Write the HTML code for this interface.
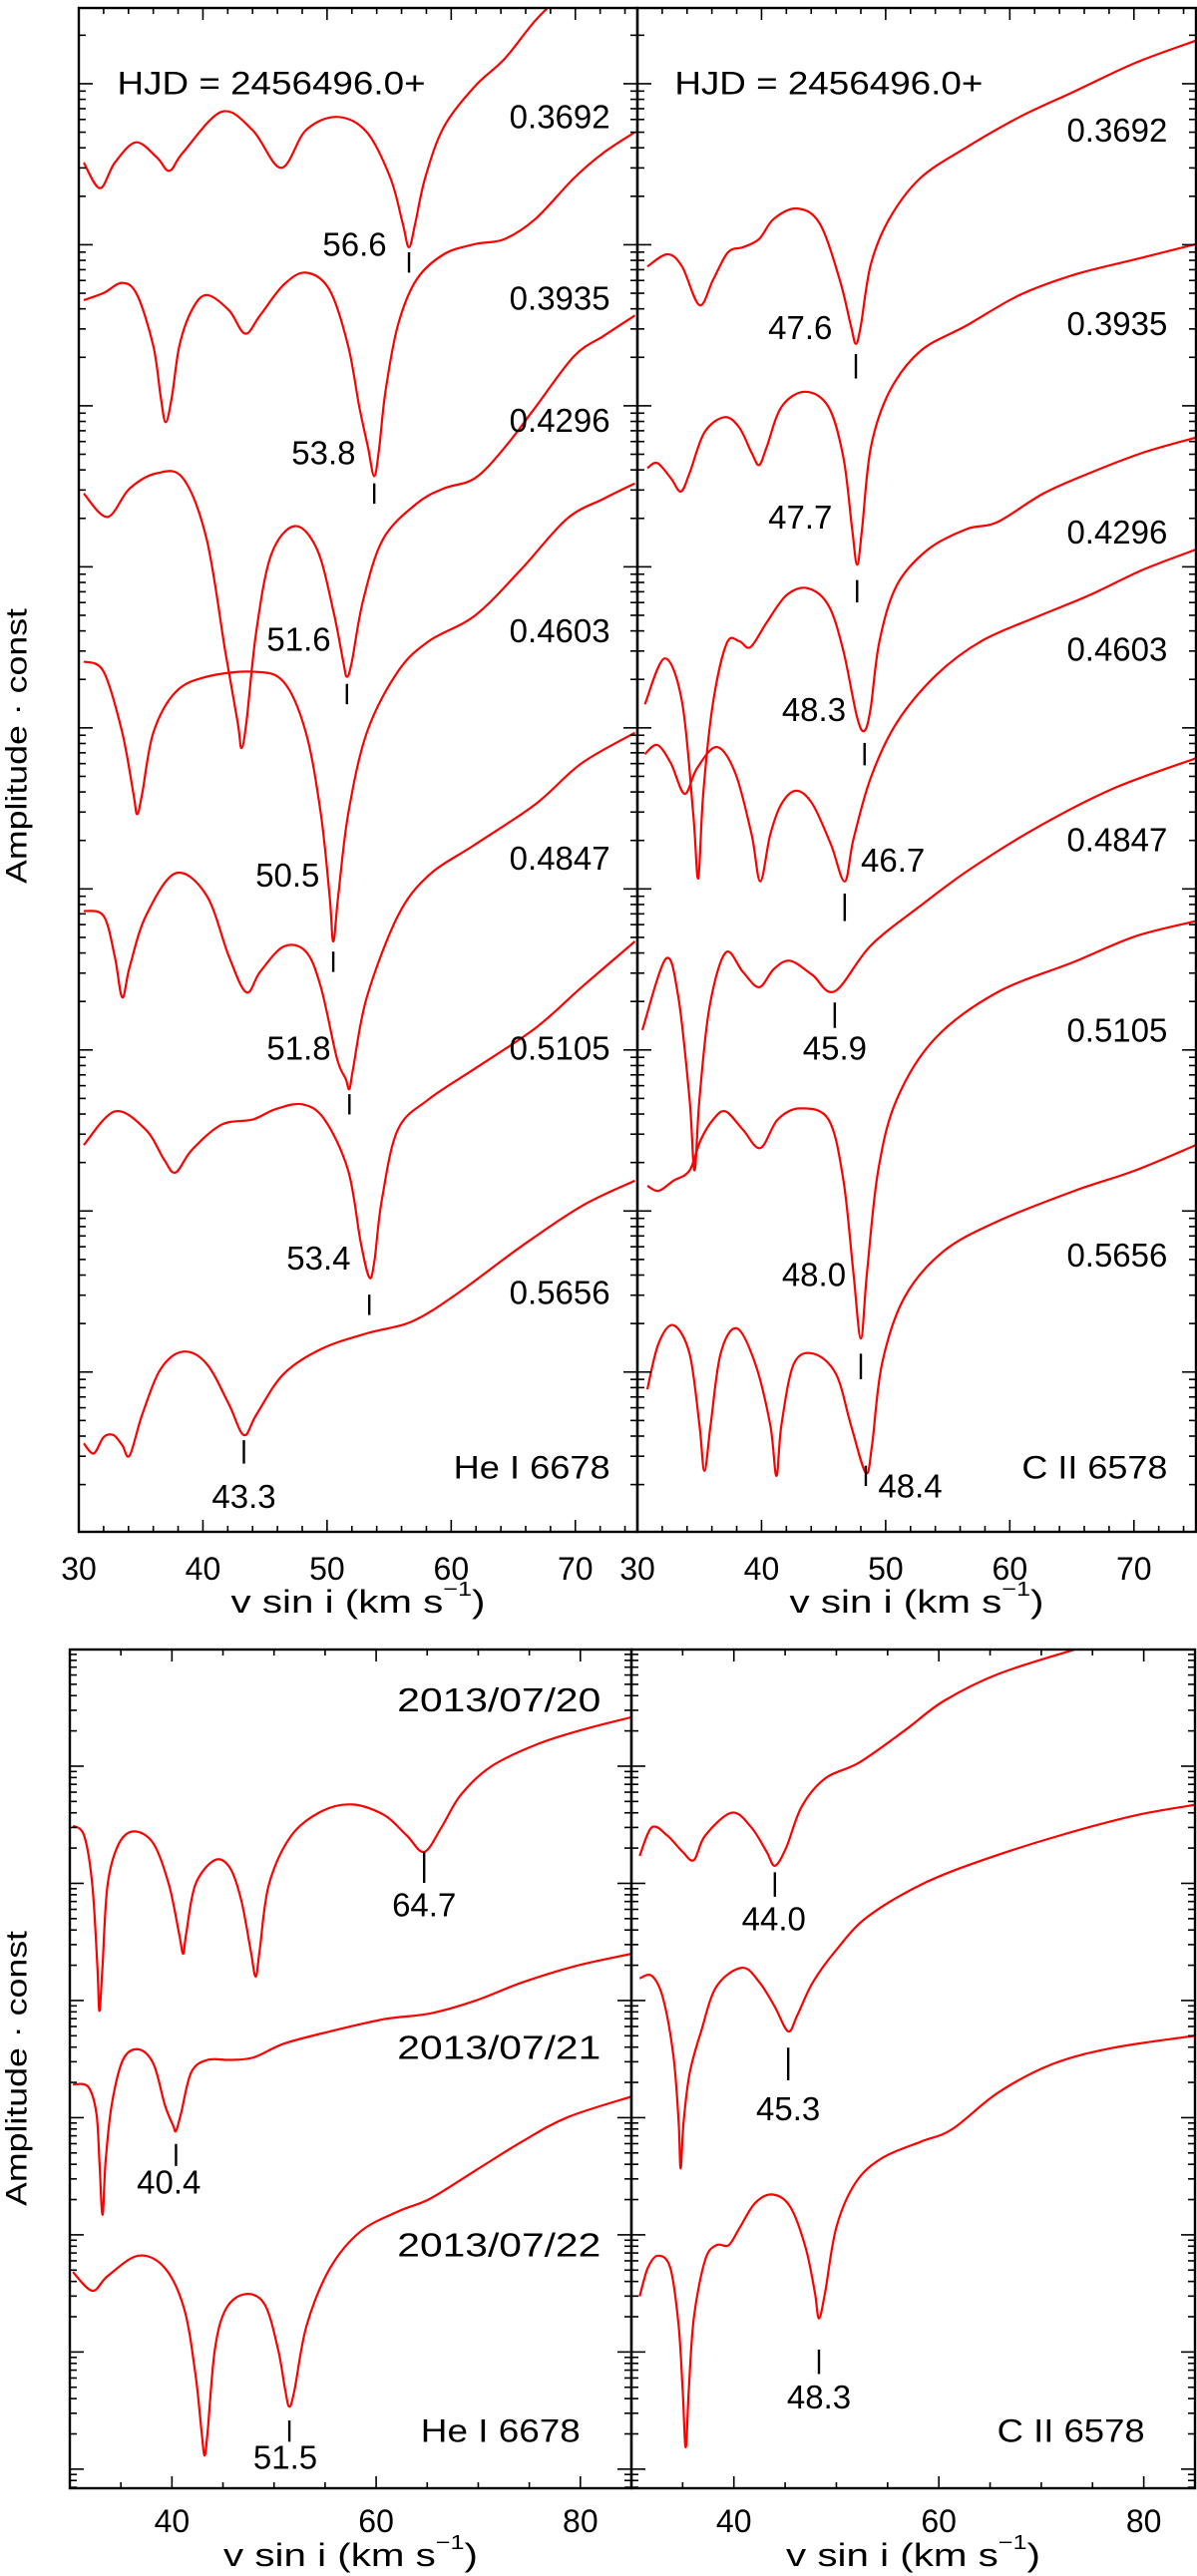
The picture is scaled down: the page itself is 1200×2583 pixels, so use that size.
<!DOCTYPE html>
<html><head><meta charset="utf-8"><title>v sin i amplitude spectra</title>
<style>
html,body{margin:0;padding:0;background:#fff;}
svg{display:block;}
text{font-family:"Liberation Sans",sans-serif;fill:#000;}
</style></head>
<body>
<svg id="fig" xmlns="http://www.w3.org/2000/svg" width="1200" height="2583" viewBox="0 0 1200 2583"></svg>
<script>
// ---------------- DATA (v sin i in km/s, amplitude in arbitrary offset units) ----------------
// Top-left: He I 6678, phases
const phasesTop = ["0.3692","0.3935","0.4296","0.4603","0.4847","0.5105","0.5656"];
const heTop1 = [[30.4,1345],[31.7,1320],[32.9,1345],[34.6,1365],[36.3,1350],[37.3,1337],[38.4,1355],[41.5,1395],[44.0,1377],[46.3,1340],[48.3,1377],[50.8,1390],[53.2,1375],[55.1,1330],[56.1,1285],[56.6,1262],[57.1,1285],[57.9,1330],[59.4,1380],[61.9,1420],[64.3,1447],[66.8,1485],[69.3,1515]];
const heTop2 = [[30.4,1210],[32.0,1217],[33.5,1227],[34.7,1215],[36.0,1165],[36.6,1115],[37.0,1090],[37.5,1115],[38.1,1165],[39.1,1200],[40.3,1215],[42.1,1200],[43.4,1177],[44.6,1195],[46.5,1225],[48.3,1237],[50.2,1220],[51.7,1165],[52.6,1105],[53.3,1065],[53.8,1037],[54.2,1065],[54.7,1120],[55.7,1185],[57.2,1230],[59.4,1255],[61.9,1265],[64.3,1270],[66.8,1290],[69.9,1330],[72.3,1355],[74.8,1375]];
const heTop3 = [[30.4,1020],[32.3,997],[34.1,1025],[36.3,1040],[38.4,1035],[40.3,975],[41.8,865],[42.8,795],[43.1,770],[43.5,795],[44.3,885],[45.5,960],[47.4,988],[49.2,965],[50.5,905],[51.3,855],[51.6,840],[52.0,855],[52.9,915],[54.5,975],[57.2,1010],[59.4,1025],[61.9,1035],[64.3,1065],[66.8,1105],[69.9,1155],[72.3,1175],[74.8,1195]];
const heTop4 = [[30.4,855],[32.0,845],[33.5,785],[34.4,725],[34.7,705],[35.1,725],[36.0,785],[37.8,825],[40.3,840],[44.0,845],[46.5,835],[48.3,785],[49.5,705],[50.2,625],[50.5,580],[50.9,625],[51.7,705],[53.2,785],[55.7,845],[58.2,875],[61.9,900],[65.6,945],[69.3,995],[72.3,1015],[74.8,1030]];
const heTop5 = [[30.4,610],[32.0,605],[32.9,565],[33.5,525],[34.1,555],[35.4,605],[37.8,647],[40.3,625],[42.1,565],[43.5,530],[44.6,550],[46.5,575],[48.3,570],[49.5,535],[50.8,465],[51.5,445],[51.8,435],[52.1,455],[53.2,525],[55.7,605],[58.2,645],[61.9,675],[66.8,715],[70.5,755],[74.8,785]];
const heTop6 = [[30.4,380],[32.9,413],[35.4,395],[36.9,365],[37.8,353],[39.1,375],[41.5,400],[44.0,405],[45.8,415],[48.0,420],[49.8,405],[51.7,355],[52.7,285],[53.4,250],[53.8,265],[54.4,325],[55.7,395],[58.2,425],[61.9,455],[66.8,495],[70.5,535],[74.8,580]];
const heTop7 = [[30.4,87],[31.2,77],[32.0,93],[32.8,95],[33.5,85],[34.1,75],[35.1,115],[36.6,160],[38.4,177],[40.3,165],[42.1,125],[43.3,95],[44.3,115],[46.5,155],[49.6,180],[53.2,195],[56.9,207],[60.6,235],[65.6,280],[70.5,320],[74.8,345]];
// Top-right: C II 6578
const cTop1 = [[30.8,1243],[32.4,1255],[33.6,1243],[35.0,1205],[36.1,1230],[37.3,1257],[38.5,1262],[39.8,1270],[41.0,1290],[42.9,1300],[44.7,1285],[46.3,1230],[47.2,1185],[47.6,1167],[48.0,1185],[48.8,1245],[50.3,1290],[52.8,1330],[56.5,1360],[60.8,1390],[65.2,1415],[70.1,1443],[75.0,1465]];
const cTop2 = [[30.8,1045],[31.6,1050],[32.7,1035],[33.5,1022],[34.2,1040],[35.4,1080],[37.0,1095],[38.2,1085],[39.2,1060],[39.8,1048],[40.4,1065],[41.6,1105],[43.5,1120],[45.4,1105],[46.6,1055],[47.3,985],[47.7,950],[48.1,985],[48.8,1065],[50.3,1120],[52.8,1160],[56.5,1185],[60.8,1215],[65.2,1235],[70.1,1250],[75.0,1265]];
const cTop3 = [[30.6,813],[32.2,858],[33.6,815],[34.5,705],[34.9,642],[35.3,725],[36.1,815],[37.2,873],[38.2,875],[39.1,869],[40.4,893],[42.0,920],[43.7,927],[45.4,910],[46.6,865],[47.7,800],[48.3,787],[48.8,810],[49.5,875],[50.9,930],[53.4,965],[56.5,985],[59.0,992],[62.7,1020],[66.4,1040],[70.7,1060],[75.0,1075]];
const cTop4 = [[30.6,764],[31.6,773],[32.7,755],[33.8,725],[34.8,750],[36.4,771],[37.9,745],[39.2,685],[39.9,639],[40.7,685],[41.6,715],[42.8,728],[44.1,715],[45.6,675],[46.7,639],[47.4,680],[48.8,741],[50.9,795],[54.1,842],[57.7,875],[62.2,899],[66.4,920],[70.7,945],[75.0,965]];
const cTop5 = [[30.4,493],[32.3,563],[33.3,525],[34.2,425],[34.6,355],[35.0,425],[35.8,515],[37.1,569],[38.5,550],[39.8,535],[41.0,553],[42.3,561],[44.1,547],[45.9,531],[48.8,576],[52.8,615],[56.8,651],[62.2,692],[68.3,730],[75.0,760]];
const cTop6 = [[30.8,340],[31.7,335],[32.9,345],[34.2,355],[35.1,385],[36.1,405],[37.1,413],[38.5,395],[39.9,377],[41.3,405],[43.1,416],[45.4,405],[46.6,345],[47.4,255],[48.0,190],[48.5,255],[49.4,355],[50.9,425],[54.0,485],[59.0,530],[65.2,560],[70.1,585],[75.0,600]];
const cTop7 = [[30.8,140],[31.7,185],[32.9,203],[34.2,175],[35.0,105],[35.4,60],[35.9,105],[36.7,175],[38.0,200],[39.5,165],[40.7,105],[41.2,55],[41.6,105],[42.6,165],[44.2,175],[46.0,155],[47.2,105],[48.4,58],[48.9,85],[49.7,165],[51.5,230],[54.6,275],[59.0,305],[65.2,335],[70.1,355],[75.0,380]];
// Bottom-left: He I 6678, dates
const datesBottom = ["2013/07/20","2013/07/21","2013/07/22"];
const heBot1 = [[30.3,812],[31.4,800],[32.2,740],[32.7,640],[32.9,585],[33.2,640],[33.7,740],[34.8,790],[36.3,805],[38.2,790],[39.7,740],[40.7,680],[41.1,655],[41.4,680],[42.3,740],[44.2,770],[45.7,760],[46.8,720],[47.7,660],[48.2,627],[48.6,660],[49.5,740],[51.7,800],[54.7,830],[57.7,838],[60.8,825],[63.0,800],[64.7,780],[66.4,810],[68.3,850],[71.3,885],[75.8,912],[80.3,930],[85.0,945]];
const heBot2 = [[30.3,495],[31.8,492],[32.6,460],[32.9,400],[33.2,335],[33.5,400],[34.1,470],[35.2,525],[36.7,538],[38.2,520],[39.3,470],[40.1,445],[40.4,438],[40.9,460],[41.9,510],[43.5,525],[45.7,525],[48.0,528],[51.0,545],[55.5,560],[60.8,575],[65.3,582],[69.8,598],[74.3,620],[79.5,640],[85.0,655]];
const heBot3 = [[30.3,265],[32.2,242],[33.7,260],[36.7,285],[39.3,270],[41.2,220],[42.3,140],[42.9,70],[43.2,40],[43.5,70],[44.2,170],[45.3,220],[47.2,238],[49.1,225],[50.4,170],[51.1,120],[51.5,100],[52.0,120],[53.2,200],[55.5,270],[58.5,315],[62.3,340],[65.3,355],[69.8,390],[74.3,425],[78.8,455],[85.0,480]];
// Bottom-right: C II 6578
const cBot1 = [[30.8,775],[32.0,810],[33.5,800],[35.0,780],[36.1,770],[37.2,800],[39.8,828],[41.7,810],[43.2,780],[44.0,763],[45.1,785],[46.6,835],[48.9,870],[52.3,890],[56.8,930],[60.5,965],[65.8,998],[73.3,1028],[77.1,1040]];
const cBot2 = [[30.8,625],[32.0,628],[33.1,600],[34.1,530],[34.6,450],[34.8,392],[35.1,450],[35.7,510],[36.8,560],[38.3,615],[40.8,638],[42.5,620],[44.0,590],[45.3,560],[46.2,580],[47.7,620],[50.0,660],[53.0,700],[58.3,740],[64.3,770],[71.8,800],[79.3,825],[85.2,838]];
const cBot3 = [[30.8,235],[31.6,270],[32.6,285],[33.8,270],[34.6,200],[35.0,120],[35.3,50],[35.6,120],[36.1,210],[37.2,280],[38.3,298],[39.5,298],[40.6,320],[42.1,350],[43.8,360],[45.5,345],[47.0,295],[47.9,240],[48.3,208],[48.9,240],[50.0,320],[51.9,375],[54.5,405],[58.3,425],[61.3,440],[65.8,485],[71.1,520],[77.1,540],[85.2,555]];
// Dip markers: [vsini, ampTop, ampBottom]
const heTopMarks = [[56.6,1257,1237],[53.8,1030,1010],[51.6,833,813],[50.5,570,550],[51.8,430,410],[53.4,233,213],[43.3,90,67]];
const heTopMarkLabels = [["56.6",54.8,1265,"end"],["53.8",52.3,1060,"end"],["51.6",50.3,877,"end"],["50.5",49.4,645,"end"],["51.8",50.3,475,"end"],["53.4",51.9,269,"end"],["43.3",43.3,35,"middle"]];
const cTopMarks = [[47.6,1157,1133],[47.7,935,913],[48.3,775,753],[46.7,627,600],[45.9,520,495],[48.0,175,150],[48.4,65,45]];
const cTopMarkLabels = [["47.6",45.7,1183,"end"],["47.7",45.7,997,"end"],["48.3",46.8,808,"end"],["46.7",48.0,660,"start"],["45.9",45.9,475,"middle"],["48.0",46.8,253,"end"],["48.4",49.4,45,"start"]];
const heBotMarks = [[64.7,780,742],[40.4,422,395],[51.5,83,57]];
const heBotMarkLabels = [["64.7",64.7,715,"middle"],["40.4",39.7,375,"middle"],["51.5",51.1,38,"middle"]];
const cBotMarks = [[44.0,755,725],[45.3,540,500],[48.3,170,140]];
const cBotMarkLabels = [["44.0",43.9,698,"middle"],["45.3",45.3,465,"middle"],["48.3",48.3,112,"middle"]];
// Phase / date label amplitude positions
const heTopPhaseAmp = [1390,1212,1092,885,662,475,235];
const cTopPhaseAmp = [1377,1187,982,867,680,493,272];
const heBotDateAmp = [966,540,298];
const ticksTop = [30,40,50,60,70];
const ticksBot = [40,60,80];

// ---------------- RENDERING ----------------
const NS = "http://www.w3.org/2000/svg";
const svg = document.getElementById("fig");
function mk(tag, attrs, parent){
  const e = document.createElementNS(NS, tag);
  for (const k in attrs) e.setAttribute(k, attrs[k]);
  (parent||svg).appendChild(e);
  return e;
}
function panel(name, x0, x1, y0, y1, vmin, vmax, amax){
  return {name, x0, x1, y0, y1, vmin, vmax, amax,
    sx: v => x0 + (v - vmin) / (vmax - vmin) * (x1 - x0),
    sy: a => y1 - a / amax * (y1 - y0)};
}
const P = {
  heTop: panel("he-top", 79, 639, 8, 1536, 30, 75, 1497),
  cTop:  panel("c-top", 639, 1199, 8, 1536, 30, 75, 1497),
  heBot: panel("he-bot", 70, 633, 1654, 2495, 30, 85, 1028),
  cBot:  panel("c-bot", 633, 1198, 1654, 2495, 30, 85, 1028)
};
function pathFrom(p, pts){
  const q = pts.map(d => [p.sx(d[0]), p.sy(d[1])]);
  let s = "M" + q[0][0].toFixed(1) + "," + q[0][1].toFixed(1);
  for (let i = 0; i < q.length - 1; i++){
    const p0 = q[Math.max(0,i-1)], p1 = q[i], p2 = q[i+1], p3 = q[Math.min(q.length-1,i+2)];
    const c1 = [p1[0] + (p2[0]-p0[0])/6, p1[1] + (p2[1]-p0[1])/6];
    const c2 = [p2[0] - (p3[0]-p1[0])/6, p2[1] - (p3[1]-p1[1])/6];
    s += "C" + c1[0].toFixed(1)+","+c1[1].toFixed(1)+" "+c2[0].toFixed(1)+","+c2[1].toFixed(1)+" "+p2[0].toFixed(1)+","+p2[1].toFixed(1);
  }
  return s;
}
function txt(str, x, y, size, anchor, parent, len){
  const t = mk("text", {x:x, y:y, "font-size":size, "text-anchor":anchor||"start", "dominant-baseline":"central"}, parent);
  if (len){ t.setAttribute("textLength", len); t.setAttribute("lengthAdjust", "spacingAndGlyphs"); }
  t.textContent = str;
  return t;
}
const defs = mk("defs", {});
function drawPanel(p, curves, marks, markLabels, opts){
  const g = mk("g", {});
  
  
  const cp = mk("clipPath", {id: "clip-" + p.name}, defs);
  mk("rect", {x:p.x0, y:p.y0, width:p.x1-p.x0, height:p.y1-p.y0}, cp);
  const cg = mk("g", {"clip-path":"url(#clip-" + p.name + ")"}, g);
  curves.forEach((c, i) => {
    const path = mk("path", {d: pathFrom(p, c), fill:"none", stroke:"#ff0000", "stroke-width":"2.2", "stroke-linejoin":"round"}, cg);
    
    
  });
  marks.forEach((m) => {
    const l = mk("line", {x1:p.sx(m[0]), x2:p.sx(m[0]), y1:p.sy(m[1]), y2:p.sy(m[2]), stroke:"#000", "stroke-width":"2.4"}, g);
    
    
  });
  markLabels.forEach((m) => {
    const t = txt(m[0], p.sx(m[1]), p.sy(m[2]), 33, m[3], g);
    
    
  });
  // y ticks (log-like decades)
  const tg = mk("g", {stroke:"#000", "stroke-width":"1.6"}, g);
  
  
  for (let k = -1; k < opts.nMaj; k++){
    const lower = opts.maj0 - (k+1) * opts.dec;
    const upper = opts.maj0 - k * opts.dec;
    const ys = [];
    if (k >= 0) ys.push([upper, 14]);
    for (let m = 2; m <= 9; m++) ys.push([lower + Math.log10(m) * opts.dec, 7]);
    ys.forEach(([a, len]) => {
      if (a <= 0 || a >= p.amax) return;
      const y = p.sy(a);
      mk("line", {x1:p.x0, x2:p.x0+len, y1:y, y2:y}, tg);
      mk("line", {x1:p.x1, x2:p.x1-len, y1:y, y2:y}, tg);
    });
  }
  // x ticks
  for (let v = p.vmin; v <= p.vmax + 0.01; v += opts.minor){
    const isMaj = Math.abs(v / opts.major - Math.round(v / opts.major)) < 1e-6;
    const len = isMaj ? 12 : 6;
    const x = p.sx(v);
    mk("line", {x1:x, x2:x, y1:p.y1, y2:p.y1-len}, tg);
    mk("line", {x1:x, x2:x, y1:p.y0, y2:p.y0+len}, tg);
  }
  opts.labels.forEach(v => {
    const t = txt(String(v), p.sx(v), opts.tickY, 32, "middle", g);
    
    
  });
  const xt = mk("text", {x:(p.x0+p.x1)/2, y:opts.titleY, "font-size":32, "text-anchor":"middle", "dominant-baseline":"central", textLength:255, lengthAdjust:"spacingAndGlyphs"}, g);
  
  
  xt.appendChild(document.createTextNode("v sin i (km s"));
  const sup = mk("tspan", {"font-size":20, dy:-12}, xt);
  sup.textContent = "−1";
  const cl = mk("tspan", {dy:12}, xt);
  cl.textContent = ")";
  const frame = mk("rect", {x:p.x0, y:p.y0, width:p.x1-p.x0, height:p.y1-p.y0, fill:"none", stroke:"#000", "stroke-width":"2.4"}, g);
  
  
  return g;
}
const topOpts = {nMaj:9, maj0:1422.6, dec:158.2, minor:2, major:10, labels:ticksTop, tickY:1573, titleY:1606};
const botOpts = {nMaj:7, maj0:885, dec:143.6, minor:5, major:20, labels:ticksBot, tickY:2528, titleY:2562};

const gHeTop = drawPanel(P.heTop, [heTop1,heTop2,heTop3,heTop4,heTop5,heTop6,heTop7], heTopMarks, heTopMarkLabels, topOpts);
const gCTop = drawPanel(P.cTop, [cTop1,cTop2,cTop3,cTop4,cTop5,cTop6,cTop7], cTopMarks, cTopMarkLabels, topOpts);
const gHeBot = drawPanel(P.heBot, [heBot1,heBot2,heBot3], heBotMarks, heBotMarkLabels, botOpts);
const gCBot = drawPanel(P.cBot, [cBot1,cBot2,cBot3], cBotMarks, cBotMarkLabels, botOpts);

phasesTop.forEach((s, i) => {
  const t1 = txt(s, P.heTop.sx(72.8), P.heTop.sy(heTopPhaseAmp[i]), 33, "end", gHeTop);
  
  
  const t2 = txt(s, P.cTop.sx(72.7), P.cTop.sy(cTopPhaseAmp[i]), 33, "end", gCTop);
  
  
});
datesBottom.forEach((s, i) => {
  const t = txt(s, P.heBot.sx(82.0), P.heBot.sy(heBotDateAmp[i]), 33, "end", gHeBot, 204);
  
  
});
const h1 = txt("HJD = 2456496.0+", P.heTop.sx(33.1), P.heTop.sy(1423), 32, "start", gHeTop, 309);


const h2 = txt("HJD = 2456496.0+", P.cTop.sx(33.0), P.cTop.sy(1423), 32, "start", gCTop, 309);


const l1 = txt("He I 6678", P.heTop.sx(72.8), P.heTop.sy(63), 32, "end", gHeTop, 157);


const l2 = txt("C II 6578", P.cTop.sx(72.7), P.cTop.sy(63), 32, "end", gCTop, 146);


const l3 = txt("He I 6678", P.heBot.sx(80.0), P.heBot.sy(70), 32, "end", gHeBot, 160);


const l4 = txt("C II 6578", P.cBot.sx(80.1), P.cBot.sy(70), 32, "end", gCBot, 148);



[[748],[2074]].forEach(([cy]) => {
  const t = mk("text", {x:17, y:cy, "font-size":30, "text-anchor":"middle", "dominant-baseline":"central", transform:"rotate(-90 17 " + cy + ")", textLength:276, lengthAdjust:"spacingAndGlyphs"});
  t.textContent = "Amplitude · const";
  
  
});
</script>
</body></html>
